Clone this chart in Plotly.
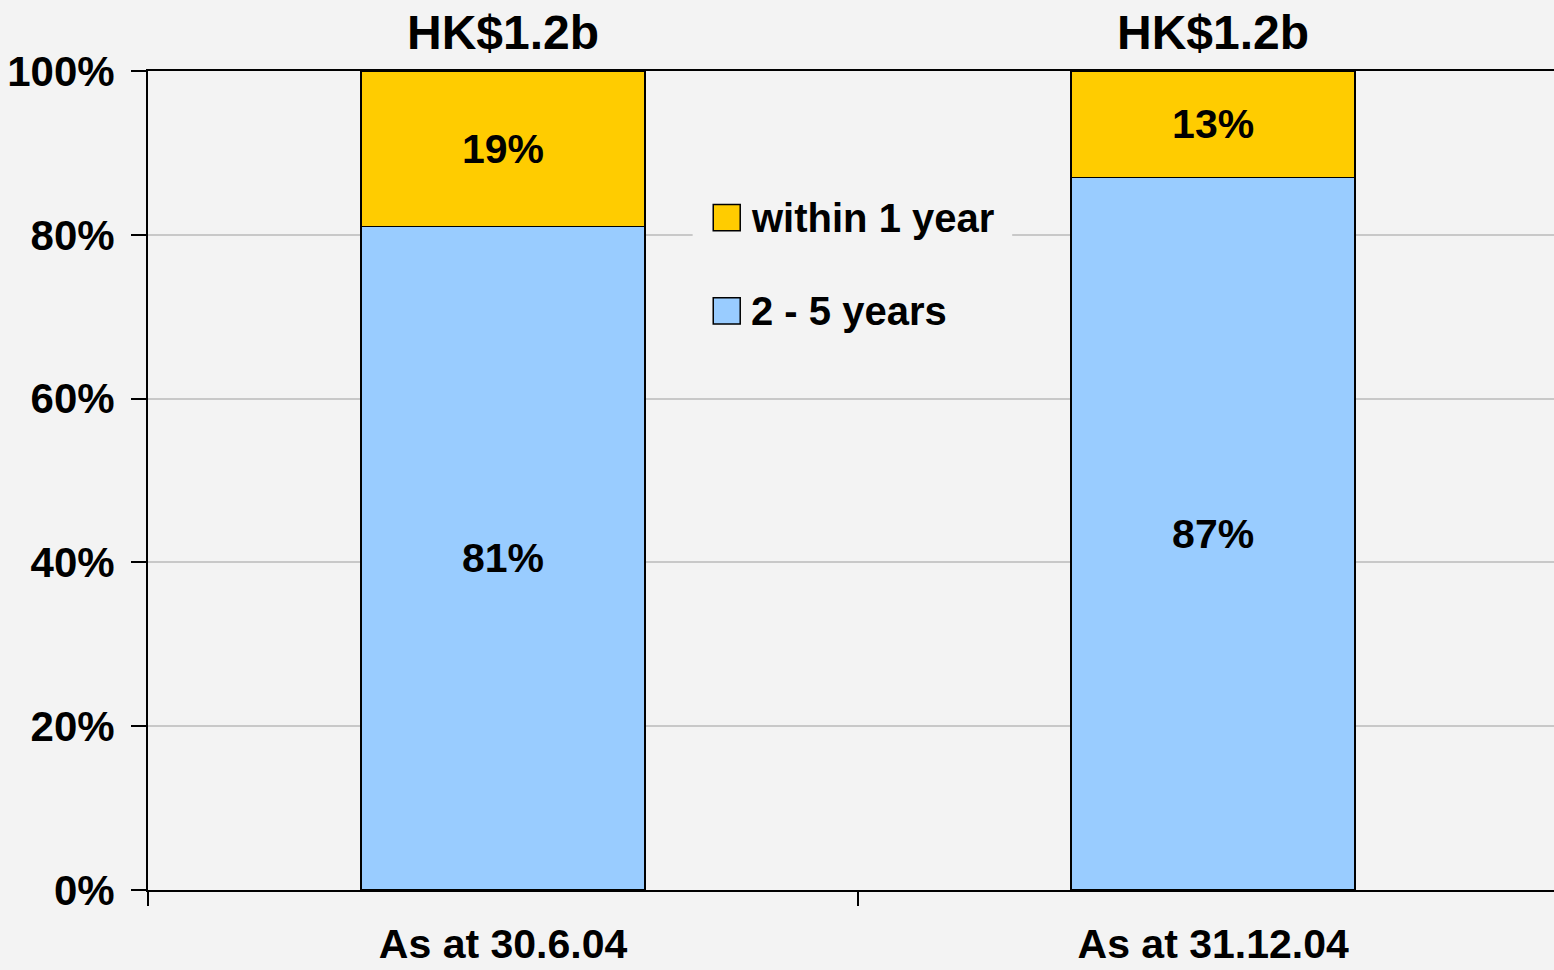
import plotly.graph_objects as go

# data
categories = ["As at 30.6.04", "As at 31.12.04"]
within_1_year = [19, 13]
two_to_five_years = [81, 87]
totals = ["HK$1.2b", "HK$1.2b"]
y_ticks = [0, 20, 40, 60, 80, 100]
y_tick_labels = ["0%", "20%", "40%", "60%", "80%", "100%"]

BLUE = "#99ccff"
YELLOW = "#ffcc00"
BG = "#f3f3f3"
FONT = "Liberation Sans, Arial, sans-serif"

fig = go.Figure()

fig.add_trace(go.Bar(
    x=categories, y=two_to_five_years, name="2 - 5 years",
    marker=dict(color=BLUE, line=dict(color="black", width=1.5)),
    width=0.4,
    text=[f"{v}%" for v in two_to_five_years],
    textposition="inside", insidetextanchor="middle",
    textfont=dict(size=41, color="black", family=FONT, weight="bold"),
    showlegend=False,
))
fig.add_trace(go.Bar(
    x=categories, y=within_1_year, name="within 1 year",
    marker=dict(color=YELLOW, line=dict(color="black", width=1.5)),
    width=0.4,
    text=[f"{v}%" for v in within_1_year],
    textposition="inside", insidetextanchor="middle",
    textfont=dict(size=41, color="black", family=FONT, weight="bold"),
    showlegend=False,
))

# totals above each bar
for cat, tot in zip(categories, totals):
    fig.add_annotation(
        x=cat, y=1, xref="x", yref="paper", yanchor="bottom", yshift=10,
        text=tot, showarrow=False,
        font=dict(size=48, color="black", family=FONT, weight="bold"),
    )

# hand-drawn legend (big squares like the original)
fig.add_shape(type="rect", xref="x", yref="y", x0=0.267, x1=0.717, y0=66.5, y1=85.5,
              fillcolor=BG, line=dict(width=0), layer="between")
legend_items = [("within 1 year", YELLOW, 83.7), ("2 - 5 years", BLUE, 72.3)]
for label, color, ytop in legend_items:
    fig.add_shape(type="rect", xref="x", yref="y", x0=0.296, x1=0.334,
                  y0=ytop - 3.2, y1=ytop, fillcolor=color,
                  line=dict(color="black", width=1.5))
    fig.add_annotation(
        x=0.347, y=ytop - 1.6, xref="x", yref="y", xanchor="left", yanchor="middle",
        text=label, showarrow=False,
        font=dict(size=40, color="black", family=FONT, weight="bold"),
    )

fig.update_layout(
    barmode="stack",
    width=1554, height=970,
    margin=dict(l=148, r=0, t=71, b=80),
    paper_bgcolor=BG, plot_bgcolor=BG,
    font=dict(family=FONT, size=40, color="black", weight="bold"),
    xaxis=dict(
        range=[-0.5, 1.48], tickson="boundaries", automargin=False,
        showline=True, linecolor="black", linewidth=2, mirror=True,
        ticks="outside", ticklen=14, tickcolor="black", tickwidth=1.5,
        showgrid=False, ticklabelstandoff=17,
        tickfont=dict(size=41, family=FONT, weight="bold"),
    ),
    yaxis=dict(
        range=[0, 100], tickvals=y_ticks, ticktext=y_tick_labels, automargin=False,
        showline=True, linecolor="black", linewidth=2,
        ticks="outside", ticklen=15, tickcolor="black", tickwidth=1.5,
        showgrid=True, gridcolor="#c8c8c8", gridwidth=1.5,
        zeroline=False, ticklabelstandoff=8,
        tickfont=dict(size=42, family=FONT, weight="bold"),
    ),
)

fig.write_html("out.html", config={"displayModeBar": False},
               post_script="document.body.style.margin = '0';")
